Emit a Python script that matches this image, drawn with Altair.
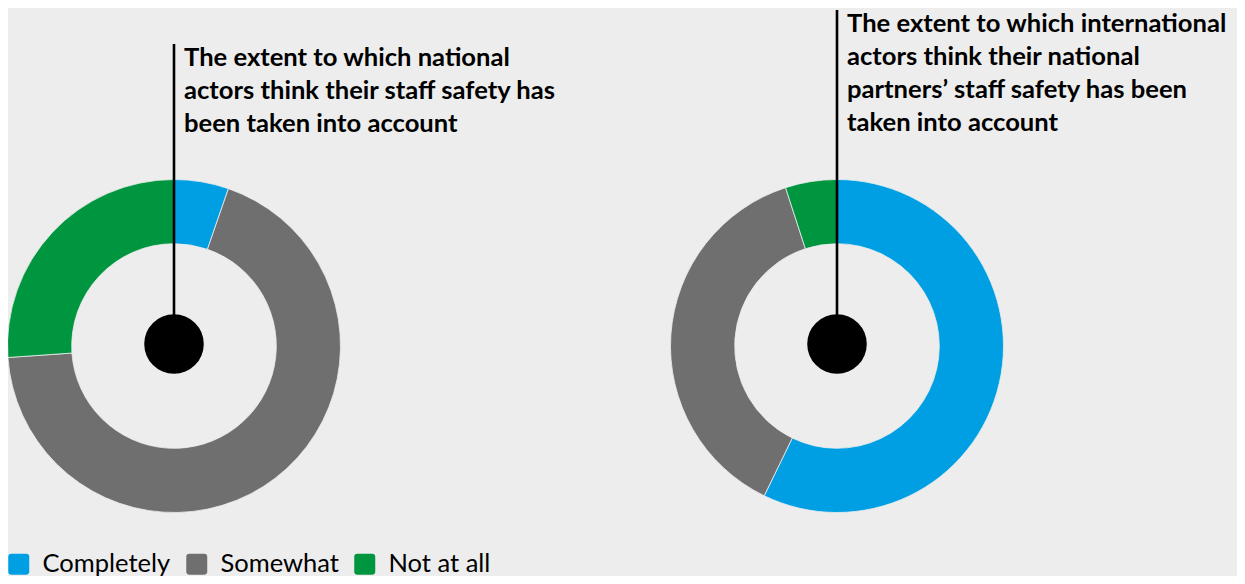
import altair as alt
import pandas as pd

categories = ["Completely", "Somewhat", "Not at all"]
colors = ["#009fe3", "#6f6f6f", "#009640"]
national = [5.3, 68.6, 26.1]
international = [57.2, 37.8, 5.0]
title_national = ["The extent to which national",
                  "actors think their staff safety has",
                  "been taken into account"]
title_international = ["The extent to which international",
                       "actors think their national",
                       "partners\u2019 staff safety has been",
                       "taken into account"]

def donut_df(vals):
    return pd.DataFrame({"category": categories, "value": vals, "idx": list(range(len(vals)))})

W, H = 1229, 568
CX1, CX2, CY = 166, 829, 338
R_OUT, R_IN = 166.5, 102.3
BG = "#ededed"

rounded = "M-1,-0.7 Q-1,-1 -0.7,-1 L0.7,-1 Q1,-1 1,-0.7 L1,0.7 Q1,1 0.7,1 L-0.7,1 Q-1,1 -1,0.7 Z"

color = alt.Color("category:N",
                  scale=alt.Scale(domain=categories, range=colors),
                  legend=alt.Legend(title=None, orient="none", direction="horizontal",
                                    legendX=-2, legendY=543, padding=0,
                                    symbolType=rounded, symbolSize=441,
                                    symbolStrokeWidth=0, symbolOpacity=1,
                                    labelFont="Lato", labelFontSize=25.5, labelColor="#000",
                                    labelOffset=11, columnPadding=13, labelLimit=300))

def donut(vals, cx):
    return alt.Chart(donut_df(vals)).mark_arc(
        innerRadius=R_IN, outerRadius=R_OUT, stroke=BG, strokeWidth=0.8
    ).encode(
        theta=alt.Theta("value:Q", stack=True),
        color=color,
        order=alt.Order("idx:Q"),
        x=alt.value(cx), y=alt.value(CY),
    )

def annot(lines, cx, top, ybase):
    df = pd.DataFrame({"t": [lines]})
    base = alt.Chart(df)
    rule = base.mark_rule(color="#000", strokeWidth=2.6).encode(
        x=alt.value(cx), y=alt.value(top), y2=alt.value(CY - 2))
    dot = base.mark_point(filled=True, shape="circle", size=3547, color="#000", opacity=1).encode(
        x=alt.value(cx), y=alt.value(CY - 2))
    txt = base.mark_text(align="left", baseline="alphabetic", font="Lato", fontWeight="bold",
                         fontSize=25.6, lineHeight=33, color="#000").encode(
        text="t", x=alt.value(cx + 10), y=alt.value(ybase))
    return rule + dot + txt

chart = alt.layer(
    donut(national, CX1),
    donut(international, CX2),
    annot(title_national, CX1, 36, 57.7),
    annot(title_international, CX2, 2, 23.7),
).properties(
    width=W, height=H, padding=0, background=BG,
    autosize=alt.AutoSizeParams(type="none"),
).configure_view(stroke=None)

chart.save("out.html", embed_options={"renderer": "svg", "actions": False})
